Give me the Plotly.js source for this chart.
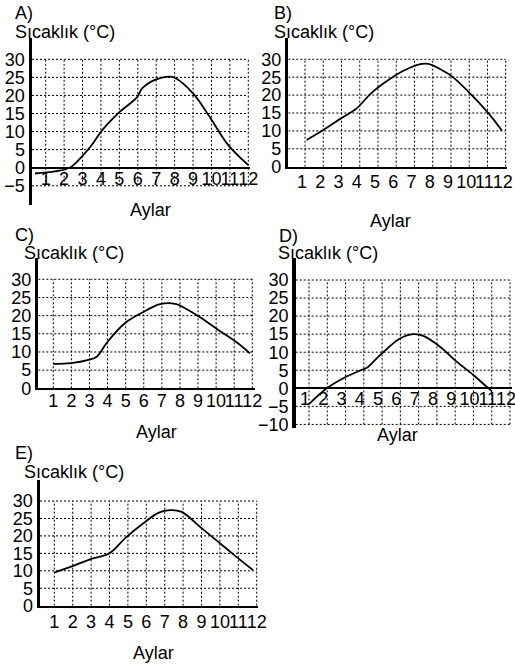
<!DOCTYPE html>
<html>
<head>
<meta charset="utf-8">
<script src="https://cdn.plot.ly/plotly-3.0.1.min.js"></script>
<style>html,body{margin:0;padding:0;background:#fff;}#chart{width:515px;height:664px;}</style>
</head>
<body>
<div id="chart"></div>
<script>
// ---- data ----
const monthTicks = [1,2,3,4,5,6,7,8,9,10,11,12];
const monthLabels = ['1','2','3','4','5','6','7','8','9','10','11','12'];
const panelLetters = ['A)','B)','C)','D)','E)'];
const yTitle = 'Sıcaklık (°C)';
const xTitle = 'Aylar';

const aMonths = [0.42, 1.5, 2.05, 2.4, 3.0, 3.5, 4.04, 5.03, 5.94, 6.25, 6.93, 7.65, 8.0, 9.0, 9.9, 10.9, 12.0];
const aTemps  = [-1.6, -1.0, -0.5, 0.3, 3.3, 6.3, 10.2, 15.5, 19.4, 22, 24.3, 25.2, 24.9, 20.6, 14.1, 6.3, 0.7];
const aYTicks = [30,25,20,15,10,5,0,-5];

const bMonths = [1.09, 2.0, 2.97, 3.83, 4.62, 5.57, 6.48, 7.4, 7.76, 8.5, 9.04, 10.14, 11.06, 11.79];
const bTemps  = [7.45, 10.25, 13.5, 16.3, 20.5, 24.2, 27, 28.7, 28.7, 27, 25.3, 20, 14.9, 10.1];
const bYTicks = [30,25,20,15,10,5,0];

const cMonths = [1, 1.98, 2.94, 3.4, 4.0, 5.0, 6.16, 6.9, 7.8, 8.1, 9.07, 10.08, 11.1, 11.87];
const cTemps  = [6.7, 6.9, 7.8, 8.7, 12.8, 18.1, 21.5, 23.2, 23.2, 22.5, 19.7, 16.2, 12.8, 9.6];
const cYTicks = [30,25,20,15,10,5,0];

const dMonths = [1, 1.97, 2.88, 3.88, 4.16, 4.89, 5.98, 6.71, 7.26, 8.17, 9.08, 9.99, 10.72, 11.0];
const dTemps  = [-4.4, 0, 2.8, 5.1, 5.7, 9.2, 13.8, 15.0, 14.5, 11.5, 7.4, 3.7, 0.45, -0.8];
const dYTicks = [30,25,20,15,10,5,0,-5,-10];

const eMonths = [1, 2.03, 2.94, 3.99, 4.84, 5.84, 6.65, 7.29, 7.92, 8.92, 9.91, 10.9, 11.8];
const eTemps  = [9.5, 11.4, 13.3, 15, 19.3, 23.6, 26.6, 27.4, 26.9, 22.6, 18.3, 14, 10.2];
const eYTicks = [30,25,20,15,10,5,0];

// ---- layout geometry (pixels) ----
const W = 515, H = 664;
const FONT = 'Liberation Sans, Arial, sans-serif';
const FS = 18;
const panels = [
  {x: aMonths, y: aTemps, yt: aYTicks, left: 32, right: 250, top: 38, bottom: 205, m1: 45.7, m12: 248.3, v30: 59.3, v0: 167.7, axisAtZero: true, gridMin: -5,
   letter: [13, 12.5], ytitle: [13, 32], xtitle: [150, 210], stand: -5, shift: 0},
  {x: bMonths, y: bTemps, yt: bYTicks, left: 288.3, right: 507, top: 38, bottom: 166.7, m1: 305, m12: 505.7, v30: 59.3, v0: 166.7, axisAtZero: false, gridMin: 0,
   letter: [271.7, 12.5], ytitle: [271.7, 32], xtitle: [390, 221], stand: -2, shift: -3},
  {x: cMonths, y: cTemps, yt: cYTicks, left: 38.3, right: 255, top: 258.3, bottom: 388.3, m1: 53.3, m12: 252.3, v30: 279.3, v0: 388.3, axisAtZero: false, gridMin: 0,
   letter: [13.3, 235], ytitle: [21.7, 253.3], xtitle: [156.7, 431.7], stand: -5, shift: 0},
  {x: dMonths, y: dTemps, yt: dYTicks, left: 295.7, right: 511.7, top: 258.3, bottom: 428.3, m1: 309, m12: 510, v30: 280, v0: 388.3, axisAtZero: true, gridMin: -10,
   letter: [276.7, 235.7], ytitle: [275.7, 253.3], xtitle: [397.5, 435], stand: -6, shift: -4},
  {x: eMonths, y: eTemps, yt: eYTicks, left: 40, right: 258, top: 480, bottom: 605.7, m1: 54.3, m12: 256.7, v30: 501, v0: 605.7, axisAtZero: false, gridMin: 0,
   letter: [13.3, 453.3], ytitle: [21.7, 471.7], xtitle: [153.3, 653.3], stand: -1, shift: 0}
];

const traces = [];
const layout = {
  width: W, height: H,
  margin: {l: 0, r: 0, t: 0, b: 0},
  paper_bgcolor: '#fff', plot_bgcolor: 'rgba(0,0,0,0)',
  showlegend: false,
  font: {family: FONT, color: '#000', size: FS},
  shapes: [], annotations: []
};

panels.forEach((p, i) => {
  const n = i === 0 ? '' : String(i + 1);
  const xa = 'x' + n, ya = 'y' + n;
  const mpp = 11 / (p.m12 - p.m1);
  const upp = 30 / (p.v0 - p.v30);
  const xr = [1 - (p.m1 - p.left) * mpp, 12 + (p.right - p.m12) * mpp];
  const yr = [-(p.bottom - p.v0) * upp, 30 + (p.v30 - p.top) * upp];

  traces.push({
    type: 'scatter', mode: 'lines', x: p.x, y: p.y, xaxis: xa, yaxis: ya,
    line: {color: '#000', width: 1.8, shape: 'spline', smoothing: 1},
    hoverinfo: 'skip'
  });

  const xaxis = {
    domain: [p.left / W, p.right / W],
    range: xr, showgrid: false, zeroline: false,
    showline: true, linecolor: '#000', linewidth: 2,
    tickmode: 'array', tickvals: monthTicks, ticktext: monthLabels,
    ticks: '', tickangle: 0, ticklabelstandoff: p.stand, ticklabelshift: p.shift, ticklabeloverflow: 'allow',
    tickfont: {family: FONT, size: FS, color: '#000'},
    fixedrange: true
  };
  if (p.axisAtZero) {
    xaxis.anchor = 'free';
    xaxis.position = 1 - p.v0 / H;
  } else {
    xaxis.anchor = ya;
  }
  const yaxis = {
    domain: [1 - p.bottom / H, 1 - p.top / H],
    range: yr, showgrid: false, zeroline: false,
    showline: true, linecolor: '#000', linewidth: 3.5,
    anchor: xa,
    tickmode: 'array', tickvals: p.yt, ticktext: p.yt.map(v => v < 0 ? '\u2212' + Math.abs(v) : String(v)),
    ticks: '', ticklabelstandoff: 0, ticklabeloverflow: 'allow',
    tickfont: {family: FONT, size: FS, color: '#000'},
    fixedrange: true
  };
  layout['xaxis' + n] = xaxis;
  layout['yaxis' + n] = yaxis;

  const dot = {color: '#000', width: 1, dash: '2px,2px'};
  // vertical dotted grid
  monthTicks.forEach(m => {
    layout.shapes.push({type: 'line', xref: xa, yref: ya, x0: m, x1: m, y0: p.gridMin, y1: 30, line: dot, layer: 'below'});
  });
  // horizontal dotted grid
  p.yt.forEach(v => {
    if (v === 0) return;
    if (v < p.gridMin) return;
    layout.shapes.push({type: 'line', xref: xa, yref: ya, x0: xr[0], x1: 12, y0: v, y1: v, line: dot, layer: 'below'});
  });

  const ann = (txt, px, py, anchor) => ({
    text: txt, xref: 'paper', yref: 'paper', x: px / W, y: 1 - py / H,
    xanchor: anchor, yanchor: 'middle', showarrow: false,
    font: {family: FONT, size: FS, color: '#000'}
  });
  layout.annotations.push(ann(panelLetters[i], p.letter[0], p.letter[1], 'left'));
  layout.annotations.push(ann(yTitle, p.ytitle[0], p.ytitle[1], 'left'));
  layout.annotations.push(ann(xTitle, p.xtitle[0], p.xtitle[1], 'center'));
});

Plotly.newPlot('chart', traces, layout, {staticPlot: true, displayModeBar: false});
</script>
</body>
</html>
